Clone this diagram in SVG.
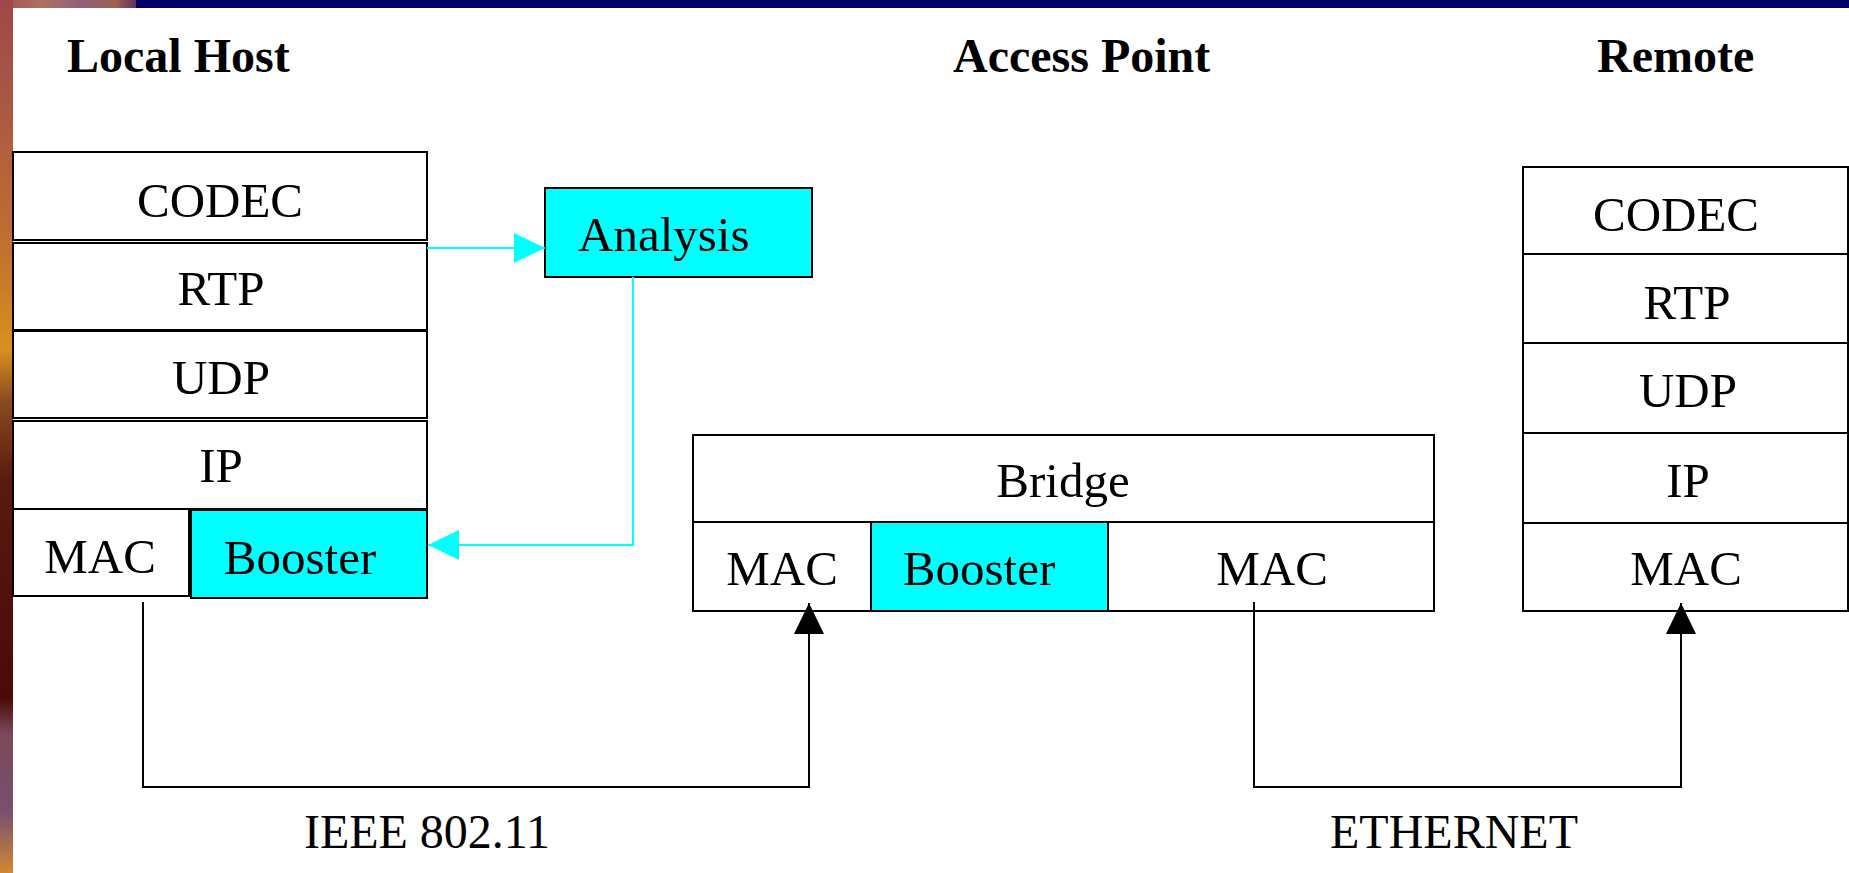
<svg xmlns="http://www.w3.org/2000/svg" width="1849" height="873" viewBox="0 0 1849 873">
  <defs>
    <linearGradient id="strip" x1="0" y1="0" x2="0" y2="1">
      <stop offset="0" stop-color="#a04848"/>
      <stop offset="0.1" stop-color="#a85545"/>
      <stop offset="0.28" stop-color="#c07030"/>
      <stop offset="0.4" stop-color="#d89020"/>
      <stop offset="0.46" stop-color="#8a4a20"/>
      <stop offset="0.55" stop-color="#5a1a10"/>
      <stop offset="0.8" stop-color="#4a0a08"/>
      <stop offset="0.84" stop-color="#7a4858"/>
      <stop offset="0.93" stop-color="#7a5070"/>
      <stop offset="1" stop-color="#d08830"/>
    </linearGradient>
    <linearGradient id="topTex" x1="0" y1="0" x2="1" y2="0">
      <stop offset="0" stop-color="#a05050"/>
      <stop offset="0.3" stop-color="#b07060"/>
      <stop offset="0.6" stop-color="#906078"/>
      <stop offset="0.85" stop-color="#a06050"/>
      <stop offset="1" stop-color="#603060"/>
    </linearGradient>
    <marker id="arrBlack" markerUnits="userSpaceOnUse" markerWidth="32" markerHeight="30" refX="31" refY="15" orient="auto">
      <polygon points="0,0 31,15 0,30" fill="#000"/>
    </marker>
    <marker id="arrCyan" markerUnits="userSpaceOnUse" markerWidth="32" markerHeight="30" refX="31" refY="15" orient="auto">
      <polygon points="0,0 31,15 0,30" fill="#00ffff"/>
    </marker>
  </defs>
  <style>
    .box { fill: #ffffff; stroke: #000; stroke-width: 2; }
    .cyan { fill: #00ffff; stroke: #000; stroke-width: 2; }
    .t { font-family: "Liberation Serif", "Times New Roman", serif; font-size: 49px; fill: #000; text-anchor: middle; }
    .h { font-family: "Liberation Serif", "Times New Roman", serif; font-size: 48px; font-weight: bold; fill: #000; }
    .lbl { font-family: "Liberation Serif", "Times New Roman", serif; font-size: 48px; fill: #000; text-anchor: middle; }
    .blk { fill: none; stroke: #000; stroke-width: 2; }
    .cy { fill: none; stroke: #00ffff; stroke-width: 2; }
  </style>

  <rect x="0" y="0" width="1849" height="873" fill="#ffffff"/>
  <g id="frame">
    <rect x="0" y="0" width="1849" height="8" fill="#000066"/>
    <rect x="0" y="0" width="136" height="8" fill="url(#topTex)"/>
    <rect x="0" y="0" width="13" height="873" fill="url(#strip)"/>
  </g>

  <g id="headings">
    <text class="h" x="67" y="72">Local Host</text>
    <text class="h" x="953" y="72">Access Point</text>
    <text class="h" x="1597" y="72">Remote</text>
  </g>

  <g id="local-host">
    <g id="lh-codec"><rect class="box" x="13" y="152" width="414" height="88"/><text class="t" x="220" y="217">CODEC</text></g>
    <g id="lh-rtp"><rect class="box" x="13" y="243" width="414" height="87"/><text class="t" x="221" y="305">RTP</text></g>
    <g id="lh-udp"><rect class="box" x="13" y="331" width="414" height="87"/><text class="t" x="221" y="394">UDP</text></g>
    <g id="lh-ip"><rect class="box" x="13" y="421" width="414" height="88"/><text class="t" x="221" y="482">IP</text></g>
    <g id="lh-mac"><rect class="box" x="13" y="509" width="176" height="87"/><text class="t" x="100" y="573">MAC</text></g>
    <g id="lh-booster"><rect class="cyan" x="191" y="510" width="236" height="88"/><text class="t" x="300" y="574">Booster</text></g>
  </g>

  <g id="analysis">
    <rect class="cyan" x="545" y="188" width="267" height="89"/>
    <text class="t" x="578" y="251" style="text-anchor:start">Analysis</text>
  </g>

  <g id="access-point">
    <g id="ap-bridge"><rect class="box" x="693" y="435" width="741" height="87"/><text class="t" x="1063" y="497">Bridge</text></g>
    <g id="ap-mac1"><rect class="box" x="693" y="522" width="178" height="89"/><text class="t" x="782" y="585">MAC</text></g>
    <g id="ap-booster"><rect class="cyan" x="871" y="522" width="237" height="89"/><text class="t" x="979" y="585">Booster</text></g>
    <g id="ap-mac2"><rect class="box" x="1108" y="522" width="326" height="89"/><text class="t" x="1272" y="585">MAC</text></g>
  </g>

  <g id="remote">
    <g id="r-codec"><rect class="box" x="1523" y="167" width="325" height="87"/><text class="t" x="1676" y="231">CODEC</text></g>
    <g id="r-rtp"><rect class="box" x="1523" y="254" width="325" height="89"/><text class="t" x="1687" y="319">RTP</text></g>
    <g id="r-udp"><rect class="box" x="1523" y="343" width="325" height="90"/><text class="t" x="1688" y="407">UDP</text></g>
    <g id="r-ip"><rect class="box" x="1523" y="433" width="325" height="90"/><text class="t" x="1688" y="497">IP</text></g>
    <g id="r-mac"><rect class="box" x="1523" y="523" width="325" height="88"/><text class="t" x="1686" y="585">MAC</text></g>
  </g>

  <g id="connectors">
    <path class="cy" d="M427,248 H545" marker-end="url(#arrCyan)"/>
    <path class="cy" d="M633,277 V545 H428" marker-end="url(#arrCyan)"/>
    <path class="blk" d="M143,602 V787 H809 V603" marker-end="url(#arrBlack)"/>
    <path class="blk" d="M1254,602 V787 H1681 V603" marker-end="url(#arrBlack)"/>
  </g>

  <g id="labels">
    <text class="lbl" x="427" y="848">IEEE 802.11</text>
    <text class="lbl" x="1454" y="848">ETHERNET</text>
  </g>
</svg>
